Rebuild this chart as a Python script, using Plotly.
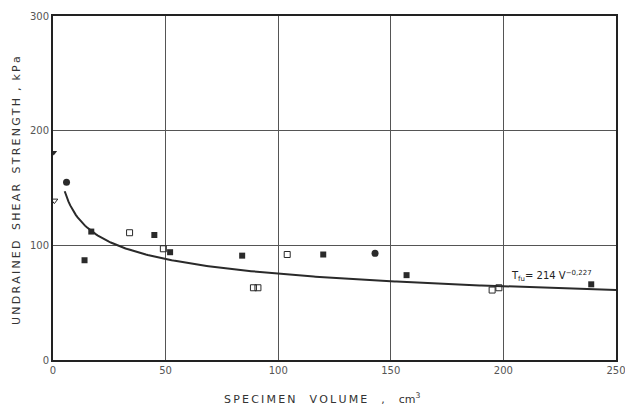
import numpy as np
import plotly.graph_objects as go

# Measured undrained shear strength vs specimen volume
vol_filled_sq = [14, 17, 45, 52, 84, 120, 157, 239]
str_filled_sq = [87, 112, 109, 94, 91, 92, 74, 66]

vol_open_sq = [34, 49, 89, 91, 104, 195, 198]
str_open_sq = [111, 97, 63, 63, 92, 61, 63]

vol_filled_circ = [6, 143]
str_filled_circ = [155, 93]

vol_filled_tri = [0.3]
str_filled_tri = [181]

vol_open_tri = [0.6]
str_open_tri = [139]

# Fitted power law  tau_fu = A * V^B
fit_a = 214
fit_b = -0.227
fit_v = np.linspace(5.2, 250, 300)
fit_tau = fit_a * fit_v ** fit_b

x_ticks = [0, 50, 100, 150, 200, 250]
y_ticks = [0, 100, 200, 300]

ink = "#2a2a2a"


def spaced(text, gap="\u2009"):
    """Open up the lettering of a caption by putting a narrow space between characters."""
    return gap.join(text)


fig = go.Figure()
fig.add_trace(go.Scatter(x=fit_v, y=fit_tau, mode="lines",
                         line=dict(color=ink, width=2), hoverinfo="skip"))
fig.add_trace(go.Scatter(x=vol_filled_sq, y=str_filled_sq, mode="markers",
                         marker=dict(symbol="square", size=6, color=ink)))
fig.add_trace(go.Scatter(x=vol_open_sq, y=str_open_sq, mode="markers",
                         marker=dict(symbol="square-open", size=6, color=ink,
                                     line=dict(width=1))))
fig.add_trace(go.Scatter(x=vol_filled_circ, y=str_filled_circ, mode="markers",
                         marker=dict(symbol="circle", size=7, color=ink)))
fig.add_trace(go.Scatter(x=vol_filled_tri, y=str_filled_tri, mode="markers",
                         marker=dict(symbol="triangle-down", size=6, color=ink)))
fig.add_trace(go.Scatter(x=vol_open_tri, y=str_open_tri, mode="markers",
                         marker=dict(symbol="triangle-down-open", size=6, color=ink,
                                     line=dict(width=1))))

axis_common = dict(showgrid=True, gridcolor="#555555", gridwidth=1, automargin=False,
                   zeroline=False, showline=True, linecolor="#222222", linewidth=2,
                   mirror=True, ticks="", ticklabeloverflow="allow",
                   tickfont=dict(family="DejaVu Sans", size=10, color="#555555"))

fig.update_layout(
    width=625, height=407,
    margin=dict(l=53, r=9, t=16, b=47),
    paper_bgcolor="white", plot_bgcolor="white",
    showlegend=False,
    xaxis=dict(range=[0, 250], tickvals=x_ticks, **axis_common),
    yaxis=dict(range=[0, 300], tickvals=y_ticks, **axis_common),
    annotations=[
        dict(text=spaced("SPECIMEN") + "    " + spaced("VOLUME") + "    ,    cm<sup>3</sup>",
             xref="paper", yref="paper",
             x=0.478, y=-0.113, xanchor="center", yanchor="middle", showarrow=False,
             font=dict(family="DejaVu Sans", size=11, color="#333333")),
        dict(text=spaced("UNDRAINED") + "   " + spaced("SHEAR") + "   "
             + spaced("STRENGTH") + "  ,  " + spaced("kPa"),
             xref="paper", yref="paper",
             x=-0.066, y=0.494, xanchor="center", yanchor="middle", showarrow=False,
             textangle=-90,
             font=dict(family="DejaVu Sans", size=11, color="#333333")),
        dict(text="T<sub>fu</sub>= 214 V<sup>−0,227</sup>", x=202.5, y=73,
             xanchor="left", yanchor="middle", showarrow=False,
             font=dict(family="DejaVu Sans", size=10, color="#222222")),
    ],
)

fig.write_html("out.html")
